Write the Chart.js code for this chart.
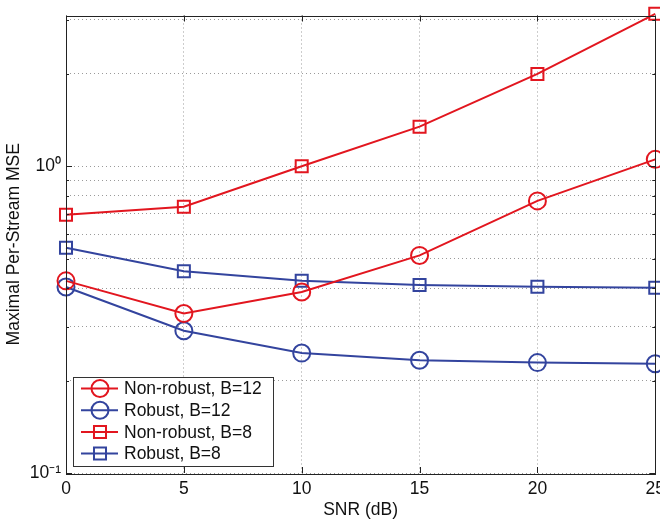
<!DOCTYPE html>
<html>
<head>
<meta charset="utf-8">
<script src="https://cdn.jsdelivr.net/npm/chart.js@4.4.1/dist/chart.umd.min.js"></script>
<style>
  html, body { margin: 0; padding: 0; background: #fff; overflow: hidden; }
  #wrap { width: 660px; height: 521px; position: relative; overflow: hidden; }
  #c { display: block; }
</style>
</head>
<body>
<div id="wrap"><canvas id="c" width="671" height="521"></canvas></div>
<script>
// ---- data ----
const snr = [0, 5, 10, 15, 20, 25];
const nonRobustB12 = [0.423, 0.331, 0.389, 0.512, 0.771, 1.053];
const robustB12    = [0.404, 0.291, 0.246, 0.233, 0.229, 0.227];
const nonRobustB8  = [0.695, 0.738, 1.000, 1.346, 2.000, 3.140];
const robustB8     = [0.542, 0.455, 0.423, 0.410, 0.405, 0.402];
const seriesNames  = ['Non-robust, B=12', 'Robust, B=12', 'Non-robust, B=8', 'Robust, B=8'];
const xTicks = [0, 5, 10, 15, 20, 25];
const yTicks = [0.1, 0.2, 0.3, 0.4, 0.5, 0.6, 0.7, 0.8, 0.9, 1, 2, 3];
const yMajorLabels = { '0.1': '10\u207B\u00B9', '1': '10\u2070' };
const xLabel = 'SNR (dB)';
const yLabel = 'Maximal Per-Stream MSE';

const RED = '#e2161f';
const BLUE = '#33449e';
const FONT = "'Liberation Sans', Arial, sans-serif";
const FS = 17.5;

function pts(vals) { return snr.map((x, i) => ({ x: x, y: vals[i] })); }

const seriesVals = [nonRobustB12, robustB12, nonRobustB8, robustB8];
const seriesColors = [RED, BLUE, RED, BLUE];
const seriesMarkers = ['circle', 'circle', 'rect', 'rect'];

const datasets = seriesVals.map((v, i) => ({
  label: seriesNames[i],
  data: pts(v),
  borderColor: seriesColors[i],
  backgroundColor: 'rgba(0,0,0,0)',
  borderWidth: 2,
  pointStyle: seriesMarkers[i],
  pointRadius: 8.5,
  pointBorderWidth: 2,
  pointBorderColor: seriesColors[i],
  pointBackgroundColor: 'rgba(0,0,0,0)',
  tension: 0,
  clip: false
}));

// frame, inward ticks and legend
const decorPlugin = {
  id: 'decor',
  afterDatasetsDraw(chart) {
    const { ctx, chartArea: a, scales } = chart;
    const xs = scales.x, ys = scales.y;
    ctx.save();
    ctx.strokeStyle = '#222';
    ctx.lineWidth = 1;
    ctx.setLineDash([]);
    ctx.beginPath();
    xTicks.forEach(t => {
      const px = Math.round(xs.getPixelForValue(t)) + 0.5;
      ctx.moveTo(px, a.bottom); ctx.lineTo(px, a.bottom - 6);
      ctx.moveTo(px, a.top); ctx.lineTo(px, a.top + 6);
    });
    yTicks.forEach(t => {
      const py = Math.round(ys.getPixelForValue(t)) + 0.5;
      const len = (t === 0.1 || t === 1) ? 6 : 3;
      ctx.moveTo(a.left, py); ctx.lineTo(a.left + len, py);
      ctx.moveTo(a.right, py); ctx.lineTo(a.right - len, py);
    });
    ctx.stroke();
    ctx.strokeRect(Math.round(a.left) + 0.5, Math.round(a.top) + 0.5,
                   Math.round(a.right - a.left), Math.round(a.bottom - a.top));
    ctx.restore();
  },
  afterDraw(chart) {
    const { ctx, chartArea: a } = chart;
    const bx = a.left + 7, bw = 200, bh = 89;
    const by = a.bottom - 7 - bh;
    ctx.save();
    ctx.fillStyle = '#fff';
    ctx.fillRect(bx, by, bw, bh);
    ctx.strokeStyle = '#333';
    ctx.lineWidth = 1;
    ctx.strokeRect(Math.round(bx) + 0.5, Math.round(by) + 0.5, bw, bh);
    const rowH = 21.7;
    chart.data.datasets.forEach((ds, i) => {
      const cy = by + 11.5 + i * rowH;
      ctx.strokeStyle = ds.borderColor;
      ctx.lineWidth = 2;
      ctx.beginPath();
      ctx.moveTo(bx + 8, cy); ctx.lineTo(bx + 45, cy);
      ctx.stroke();
      const mx = bx + 27;
      ctx.beginPath();
      if (ds.pointStyle === 'circle') {
        ctx.arc(mx, cy, 8.5, 0, Math.PI * 2);
      } else {
        const h = 8.5 * Math.SQRT1_2;
        ctx.rect(mx - h, cy - h, 2 * h, 2 * h);
      }
      ctx.stroke();
      ctx.fillStyle = '#111';
      ctx.font = FS + 'px ' + FONT;
      ctx.textBaseline = 'middle';
      ctx.textAlign = 'left';
      ctx.fillText(ds.label, bx + 51, cy + 1);
    });
    ctx.restore();
  }
};

new Chart(document.getElementById('c'), {
  type: 'line',
  data: { datasets: datasets },
  plugins: [decorPlugin],
  options: {
    responsive: false,
    animation: false,
    events: [],
    layout: { padding: { top: 9, right: 5, left: 0, bottom: 0 } },
    plugins: { legend: { display: false }, tooltip: { enabled: false } },
    scales: {
      x: {
        type: 'linear',
        min: 0, max: 25,
        afterBuildTicks(s) { s.ticks = xTicks.map(v => ({ value: v })); },
        afterFit(s) { s.height = 48; },
        ticks: {
          color: '#111',
          font: { family: FONT, size: FS },
          padding: 6,
          maxRotation: 0,
          autoSkip: false,
          callback: v => String(v)
        },
        grid: { color: '#9a9a9a', lineWidth: 1, drawTicks: false },
        border: { display: false, dash: [1, 3] },
        title: {
          display: true, text: xLabel, color: '#111',
          font: { family: FONT, size: FS },
          padding: { top: 0, bottom: 0 }
        }
      },
      y: {
        type: 'logarithmic',
        min: 0.1, max: 3.10,
        afterBuildTicks(s) { s.ticks = yTicks.map(v => ({ value: v })); },
        afterFit(s) { s.width = 66; },
        ticks: {
          color: '#111',
          font: { family: FONT, size: FS },
          padding: 5,
          autoSkip: false,
          callback: v => yMajorLabels[String(v)] || ''
        },
        grid: { color: '#9a9a9a', lineWidth: 1, drawTicks: false },
        border: { display: false, dash: [1, 3] },
        title: {
          display: true, text: yLabel, color: '#111',
          font: { family: FONT, size: FS },
          padding: { top: 4, bottom: 0 }
        }
      }
    }
  }
});
</script>
</body>
</html>
